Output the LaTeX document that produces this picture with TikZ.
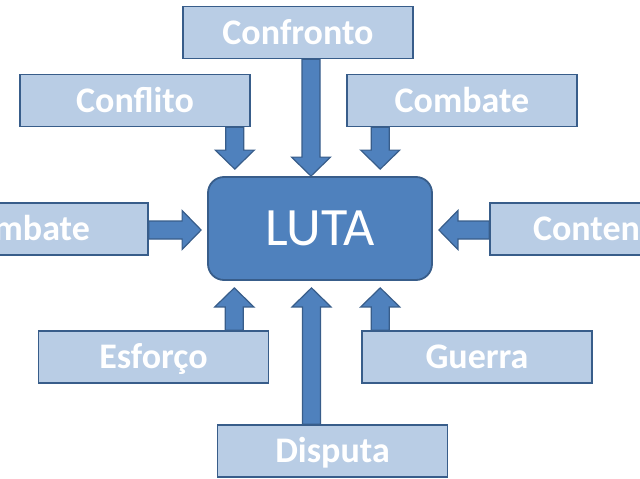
\documentclass[tikz,border=0pt]{standalone}
\usepackage{fontspec}
\setmainfont{Carlito}
\definecolor{LutaBlue}{HTML}{4F81BD}
\definecolor{LutaEdge}{HTML}{385D8A}
\definecolor{LutaPale}{HTML}{B9CDE5}
\usetikzlibrary{calc,backgrounds}

% block arrow from #1 to #2
\newcommand\fatarrow[2]{%
  \path ($(#2)!19pt!(#1)$) coordinate (tipbase);
  \draw[arr] ($(#1)!9pt!90:(#2)$) -- ($(tipbase)!9pt!90:(#2)$) -- ($(tipbase)!19.5pt!90:(#2)$)
    -- (#2) -- ($(tipbase)!19.5pt!-90:(#2)$) -- ($(tipbase)!9pt!-90:(#2)$) -- ($(#1)!9pt!-90:(#2)$) -- cycle;}

\begin{document}
\begin{tikzpicture}[x=1pt, y=-1pt,
    box/.style={draw=LutaEdge, line width=1.6pt, fill=LutaPale, minimum width=230pt, minimum height=52pt,
      inner sep=0pt, text height=26pt, text depth=3pt, font=\fontsize{36}{38}\selectfont\bfseries, text=white},
    hub/.style={draw=LutaEdge, line width=1.8pt, fill=LutaBlue, rounded corners=16pt, minimum width=224pt,
      minimum height=103pt, inner sep=0pt, font=\fontsize{54}{60}\selectfont, text=white},
    arr/.style={draw=LutaEdge, line width=1.2pt, fill=LutaBlue, line join=miter}
  ]
    \useasboundingbox (0,0) rectangle (640,479);
    \clip (0,0) rectangle (640,479);
    \node[hub] (luta) at (320,228.5) {LUTA};
    \node[box] (confronto) at (298,32.5) {Confronto};
    \node[box] (conflito) at (135,100.5) {Conflito};
    \node[box] (combate) at (462,100.5) {Combate};
    \node[box] (embate) at (33,229) {Embate};
    \node[box] (contenda) at (605,229) {Contenda};
    \node[box] (esforco) at (153.5,357) {Esforço};
    \node[box] (guerra) at (477,357) {Guerra};
    \node[box] (disputa) at (332.5,451) {Disputa};
    % arrow ends
    \coordinate (s1) at ($(confronto.south)+(13,0)$);
    \coordinate (e1) at (s1 |- luta.north);
    \coordinate (s2) at ($(conflito.south east)+(-16,0)$);
    \coordinate (e2) at ($(s2 |- luta.north)+(0,-7)$);
    \coordinate (s3) at ($(combate.south west)+(34,0)$);
    \coordinate (e3) at ($(s3 |- luta.north)+(0,-7)$);
    \coordinate (s4) at ($(embate.east)+(0,1)$);
    \coordinate (e4) at ($(s4 -| luta.west)+(-6,0)$);
    \coordinate (s5) at ($(contenda.west)+(0,1)$);
    \coordinate (e5) at ($(s5 -| luta.east)+(6,0)$);
    \coordinate (s6) at ($(esforco.north east)+(-35,0)$);
    \coordinate (e6) at ($(s6 |- luta.south)+(0,7)$);
    \coordinate (s7) at ($(disputa.north)+(-21,0)$);
    \coordinate (e7) at ($(s7 |- luta.south)+(0,7)$);
    \coordinate (s8) at ($(guerra.north west)+(19,0)$);
    \coordinate (e8) at ($(s8 |- luta.south)+(0,7)$);
    \begin{scope}[on background layer]
      \foreach \i in {1,...,8} {\fatarrow{s\i}{e\i}}
    \end{scope}
  \end{tikzpicture}
\end{document}
